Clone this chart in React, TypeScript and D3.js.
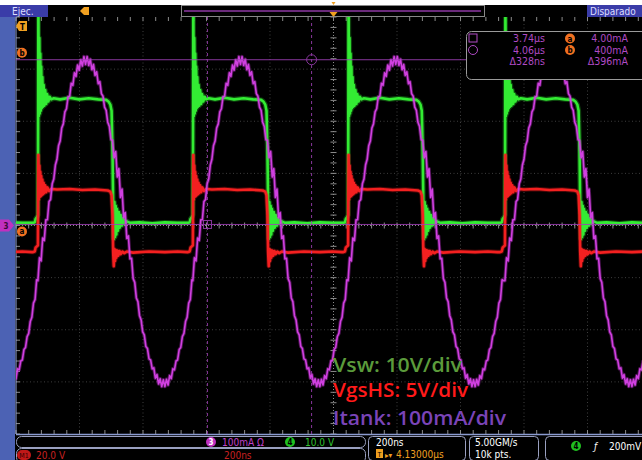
import React from "react";
import * as d3 from "d3";

// screen: 10 div x 200 ns/div, 8 vertical divisions, trigger at centre
const timeDomain = [-1000, 1000];
const divDomain = [-4, 4];

// Vsw rising edges (ns). first one is the cycle whose tail shows at the left edge
const edgeTimes = [-1420, -931, -443, 46, 540];

// Vsw (ch4, green) one period, [ns after rising edge, div]
const vswShape = [
  [-15, 0.05], [-10, 0.06], [-7, 0.13], [-3, 0.16], [0, 0.2], [1.5, 4.3], [3, 2.1], [4.5, 3.6],
  [6, 2.15], [7.5, 3.3], [9, 2.2], [10.5, 3.05], [12, 2.25], [14, 2.85], [16, 2.28], [18, 2.7],
  [20, 2.3], [23, 2.6], [26, 2.33], [29, 2.52], [33, 2.38], [37, 2.47], [42, 2.42], [50, 2.44],
  [70, 2.42], [100, 2.45], [130, 2.42], [160, 2.44], [190, 2.42], [215, 2.41], [222, 2.38],
  [228, 2.32], [232, 2.2], [235, 1.4], [237, 0.4], [239, -0.26], [241, 0.45], [243, -0.22],
  [245, 0.38], [247, -0.17], [249, 0.32], [252, -0.1], [255, 0.26], [258, -0.04], [261, 0.2],
  [265, 0.0], [269, 0.14], [274, 0.03], [280, 0.08], [290, 0.05], [320, 0.06], [360, 0.04],
  [400, 0.06], [440, 0.05], [470, 0.05],
];

// VgsHS (red) one period, [ns after rising edge, div]
const vgsShape = [
  [-15, -0.51], [-10, -0.5], [-7, -0.42], [-3, -0.4], [0, -0.38], [1.5, 1.35], [3, 0.5],
  [4.5, 1.15], [6, 0.55], [7.5, 1.03], [9, 0.56], [10.5, 0.95], [12, 0.58], [14, 0.88], [16, 0.6],
  [18, 0.82], [20, 0.62], [23, 0.77], [26, 0.64], [30, 0.73], [35, 0.66], [42, 0.7], [60, 0.69],
  [100, 0.7], [140, 0.68], [180, 0.69], [220, 0.67], [228, 0.65], [232, 0.58], [235, 0.2],
  [237, -0.5], [239, -0.78], [241, -0.45], [243, -0.68], [245, -0.47], [247, -0.62], [250, -0.48],
  [253, -0.58], [257, -0.49], [261, -0.55], [266, -0.5], [272, -0.53], [280, -0.5], [300, -0.52],
  [350, -0.5], [400, -0.51], [440, -0.5], [470, -0.51],
];

// Itank (ch3, magenta) one period incl. the switching ripple, [ns after rising edge, div]
const itankShape = [
  [0, -1.06], [5, -0.62], [10, -0.68], [15, -0.24], [20, -0.29], [25, 0.11], [30, 0.11], [35, 0.46],
  [40, 0.5], [45, 0.8], [50, 0.89], [55, 1.16], [60, 1.27], [65, 1.53], [70, 1.62], [75, 1.87],
  [80, 1.95], [85, 2.18], [90, 2.24], [95, 2.47], [100, 2.48], [105, 2.73], [110, 2.69], [115, 2.93],
  [120, 2.86], [125, 3.08], [130, 2.98], [135, 3.18], [140, 3.06], [145, 3.24], [150, 3.09],
  [155, 3.24], [160, 3.07], [165, 3.19], [170, 2.99], [175, 3.09], [180, 2.88], [185, 2.95],
  [190, 2.72], [195, 2.76], [200, 2.53], [205, 2.48], [210, 2.27], [215, 2.21], [220, 1.98],
  [225, 1.9], [230, 1.65], [235, 1.63], [240, 1.3], [245, 1.42], [250, 0.93], [255, 1.09],
  [260, 0.54], [265, 0.7], [270, 0.15], [275, 0.25], [280, -0.25], [285, -0.2], [290, -0.64],
  [295, -0.63], [300, -1.02], [305, -1.09], [310, -1.39], [315, -1.46], [320, -1.73], [325, -1.81],
  [330, -2.04], [335, -2.1], [340, -2.32], [345, -2.36], [350, -2.56], [355, -2.58], [360, -2.75],
  [365, -2.73], [370, -2.93], [375, -2.86], [380, -3.04], [385, -2.94], [390, -3.09], [395, -2.96],
  [400, -3.09], [405, -2.95], [410, -3.06], [415, -2.88], [420, -2.94], [425, -2.75], [430, -2.77],
  [435, -2.6], [440, -2.58], [445, -2.38], [450, -2.34], [455, -2.13], [460, -2.07], [465, -1.84],
  [470, -1.76], [475, -1.49], [480, -1.42], [485, -1.04], [490, -1.06],
];

// cursors: vertical (ns) and horizontal (div)
const cursorTimes = [-397, -69];
const cursorLevels = [0.02, 3.18];

const readoutRows = [
  ["3.74µs", "a", "4.00mA"],
  ["4.06µs", "b", "400mA"],
  ["Δ328ns", "", "Δ396mA"],
];

const W = 642;
const H = 460;
const UI = "'Liberation Sans Narrow', 'DejaVu Sans Condensed', 'Liberation Sans', sans-serif";
const PURPLE = "#b04ac4";
const ORANGE = "#f07020";

const x = d3.scaleLinear().domain(timeDomain).range([16, 651]);
const y = d3.scaleLinear().domain(divDomain).range([434, 17]);

// chain the per-cycle shapes into one trace
function trace(shape: number[][]): [number, number][] {
  const pts: [number, number][] = [];
  const lead = shape[0][0];
  edgeTimes.forEach((t0, i) => {
    const next = edgeTimes[i + 1];
    const cut = next === undefined ? Infinity : next - t0 + lead;
    shape.forEach(([dt, v]) => {
      if (dt < cut) pts.push([t0 + dt, v]);
    });
  });
  return pts;
}

const line = d3
  .line<[number, number]>()
  .x((d) => x(d[0]))
  .y((d) => y(d[1]));

const Badge = ({ cx, cy, fill, label, color = "#000" }: any) => (
  <g>
    <circle cx={cx} cy={cy} r={5} fill={fill} />
    <text x={cx} y={cy + 3} textAnchor="middle" fontSize={8} fontWeight="bold" fill={color} fontFamily={UI}>
      {label}
    </text>
  </g>
);

export default function App() {
  const x0 = x(0);
  const y0 = y(0);
  const gridT = d3.range(-800, 801, 200).filter((t) => t !== 0);
  const gridV = d3.range(-3, 4, 1).filter((v) => v !== 0);
  const minorT = d3.range(-1000, 1001, 40);
  const minorV = d3.range(-4, 4.01, 0.2);
  const vsw = line(trace(vswShape)) || "";
  const vgs = line(trace(vgsShape)) || "";
  const itank = line(trace(itankShape)) || "";

  return (
    <svg width={W} height={H} style={{ position: "absolute", left: 0, top: 0 }}>
      <defs>
        <clipPath id="screen">
          <rect x={16} y={17} width={635} height={417} />
        </clipPath>
      </defs>
      <rect width={W} height={H} fill="#fff" />
      <rect y={5} width={W} height={H - 5} fill="#000" />

      {/* top bar */}
      <rect x={0} y={5} width={48} height={12} fill="#3a3ca8" />
      <text x={12} y={15} fontSize={10} fill="#dcdcff" fontFamily={UI}>Ejec.</text>
      <path d="M80,11 L84,7 L89,7 L89,15 L84,15 Z" fill="#f0a020" />
      <rect x={181.5} y={5.5} width={303} height={11} fill="none" stroke="#888" />
      <line x1={184} x2={481} y1={11} y2={11} stroke="#6a2a7a" strokeWidth={2} />
      <path d={`M${x0 - 4},${12} L${x0 + 4},${12} L${x0},${17} Z`} fill="#f0a020" />
      <path d={`M${x0 - 2},${2} L${x0 + 2},${2} L${x0},${5} Z`} fill="#f0a020" />
      <rect x={587} y={5} width={55} height={12} fill="#3a3ca8" />
      <text x={590} y={15} fontSize={10} fill="#dcdcff" fontFamily={UI}>Disparado</text>

      {/* left strip */}
      <rect x={0} y={17} width={15} height={H - 17} fill="#4c62b4" />

      {/* graticule */}
      <g stroke="#3e3e3e" strokeDasharray="1 2.5">
        {gridT.map((t) => (
          <line key={t} x1={x(t)} x2={x(t)} y1={17} y2={434} />
        ))}
        {gridV.map((v) => (
          <line key={v} x1={16} x2={651} y1={y(v)} y2={y(v)} />
        ))}
      </g>
      <g stroke="#8a8a8a">
        <line x1={x0} x2={x0} y1={17} y2={434} strokeDasharray="1 2" />
        <line x1={16} x2={651} y1={y0} y2={y0} strokeDasharray="1 2" />
        {minorT.map((t) => (
          <g key={t}>
            <line x1={x(t)} x2={x(t)} y1={y0 - 3} y2={y0 + 3} />
            <line x1={x(t)} x2={x(t)} y1={17} y2={21} />
            <line x1={x(t)} x2={x(t)} y1={430} y2={434} />
          </g>
        ))}
        {minorV.map((v) => (
          <g key={v}>
            <line x1={x0 - 3} x2={x0 + 3} y1={y(v)} y2={y(v)} />
            <line x1={16} x2={20} y1={y(v)} y2={y(v)} />
          </g>
        ))}
      </g>
      <line x1={16} x2={16} y1={17} y2={434} stroke="#9aaae0" />
      <line x1={16} x2={W} y1={434.5} y2={434.5} stroke="#8a9ad0" strokeWidth={1.5} />

      {/* traces */}
      <g clipPath="url(#screen)" fill="none" strokeLinejoin="round">
        <path d={vsw} stroke="#2ee82e" strokeWidth={5} opacity={0.3} />
        <path d={vsw} stroke="#33ec33" strokeWidth={2.6} />
        <path d={vgs} stroke="#f01c1c" strokeWidth={4.5} opacity={0.3} />
        <path d={vgs} stroke="#f42020" strokeWidth={2.6} />
        <path d={itank} stroke="#c030d0" strokeWidth={3.5} opacity={0.4} />
        <path d={itank} stroke="#d040e0" strokeWidth={1.6} />
      </g>

      {/* cursors */}
      <g stroke="#a040b8" fill="none" opacity={0.85}>
        {cursorTimes.map((t) => (
          <line key={t} x1={x(t)} x2={x(t)} y1={17} y2={434} strokeDasharray="3 3" />
        ))}
        {cursorLevels.map((v) => (
          <line key={v} x1={16} x2={651} y1={y(v)} y2={y(v)} />
        ))}
        <rect x={x(cursorTimes[0]) - 4} y={y(cursorLevels[0]) - 4} width={8} height={8} />
        <circle cx={x(cursorTimes[1])} cy={y(cursorLevels[1])} r={5} />
      </g>

      {/* markers on the left */}
      <path d="M16,26 L19,21 L27,21 L27,31 L19,31 Z" fill="#f0a020" />
      <text x={22.5} y={29.5} textAnchor="middle" fontSize={8} fontWeight="bold" fill="#000" fontFamily={UI}>T</text>
      <Badge cx={22} cy={y(cursorLevels[1]) - 7} fill={ORANGE} label="b" />
      <Badge cx={22} cy={y(cursorLevels[0]) + 7} fill={ORANGE} label="a" />
      <path d={`M0,${y0 - 6} L9,${y0 - 6} L14,${y0} L9,${y0 + 6} L0,${y0 + 6} Z`} fill="#c030c0" />
      <text x={6} y={y0 + 3} textAnchor="middle" fontSize={8} fontWeight="bold" fill="#3a0a3a" fontFamily={UI}>3</text>

      {/* cursor readout */}
      <rect x={466.5} y={31.5} width={190} height={48} rx={5} fill="#000" stroke="#9a9a9a" />
      <rect x={469} y={34} width={8} height={8} fill="none" stroke={PURPLE} />
      <circle cx={473} cy={50} r={4.5} fill="none" stroke={PURPLE} />
      {readoutRows.map((r, i) => (
        <g key={i} fontFamily={UI} fontSize={10.5} fill={PURPLE}>
          <text x={545} y={42 + i * 11.5} textAnchor="end">{r[0]}</text>
          {r[1] && <Badge cx={570} cy={38.5 + i * 11.5} fill={ORANGE} label={r[1]} />}
          <text x={628} y={42 + i * 11.5} textAnchor="end">{r[2]}</text>
        </g>
      ))}

      {/* annotations */}
      <g fontFamily="'Open Sans', sans-serif" fontWeight={600} fontSize={20}>
        <text x={333} y={372} fill="#5b9b3b" textLength={129} lengthAdjust="spacingAndGlyphs">Vsw: 10V/div</text>
        <text x={333} y={397} fill="#ff1a1a" textLength={135} lengthAdjust="spacingAndGlyphs">VgsHS: 5V/div</text>
        <text x={333} y={425} fill="#7a44b8" textLength={173} lengthAdjust="spacingAndGlyphs">Itank: 100mA/div</text>
      </g>

      {/* status bar */}
      <g fill="#000" stroke="#9aa0c0">
        <rect x={16.5} y={436.5} width={349} height={11} rx={5} />
        <rect x={16.5} y={448.5} width={349} height={14} rx={5} />
        <rect x={368.5} y={436.5} width={97} height={24} rx={4} />
        <rect x={469.5} y={436.5} width={69} height={24} rx={4} />
        <rect x={545.5} y={436.5} width={110} height={24} rx={4} />
      </g>
      <g fontFamily={UI} fontSize={10}>
        <Badge cx={211} cy={442} fill="#c030c0" label="3" color="#fff" />
        <text x={222} y={445.5} fill="#c040c8">100mA Ω</text>
        <Badge cx={290} cy={442} fill="#20c020" label="4" />
        <text x={305} y={445.5} fill="#30c030">10.0 V</text>
        <rect x={17} y={450} width={14} height={10} rx={5} fill="#c01818" />
        <text x={24} y={458} textAnchor="middle" fontSize={7} fill="#300">M1</text>
        <text x={36} y={458.5} fill="#c82020">20.0 V</text>
        <text x={224} y={458.5} fill="#c82020">200ns</text>
        <text x={376} y={446} fill="#fff">200ns</text>
        <rect x={376} y={449} width={7} height={9} fill="#f0a020" />
        <text x={379.5} y={457} textAnchor="middle" fontSize={7} fill="#000">T</text>
        <text x={385} y={457.5} fill="#f0a020" fontSize={8}>▸▾</text>
        <text x={396} y={458} fill="#f0a020">4.13000µs</text>
        <text x={475} y={446} fill="#fff">5.00GM/s</text>
        <text x={475} y={458} fill="#fff">10k pts.</text>
        <Badge cx={576} cy={446} fill="#20c020" label="4" />
        <text x={594} y={449.5} fill="#fff" fontStyle="italic">ƒ</text>
        <text x={609} y={449.5} fill="#fff">200mV</text>
      </g>
    </svg>
  );
}
